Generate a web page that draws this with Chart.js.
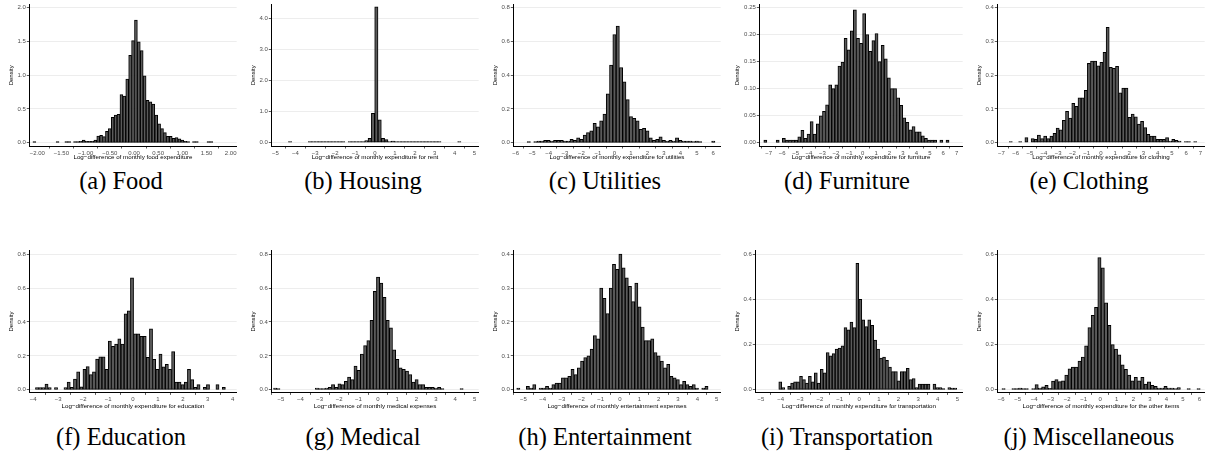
<!DOCTYPE html>
<html lang="en">
<head>
<meta charset="UTF-8">
<title>Log-difference of monthly expenditure by category</title>
<script src="https://cdn.jsdelivr.net/npm/chart.js"></script>
<style>
  body { margin: 0; background: #fff; width: 1211px; height: 464px; overflow: hidden; position: relative; }
  .panel { position: absolute; }
  .caption { position: absolute; width: 242px; height: 30px; line-height: 30px; text-align: center;
             font-family: 'Liberation Serif', serif; font-size: 24.5px; color: #000; white-space: nowrap; }
</style>
</head>
<body>
<script>
// captions and axis titles, one per panel (a..j)
const captions = ['(a) Food', '(b) Housing', '(c) Utilities', '(d) Furniture', '(e) Clothing',
                  '(f) Education', '(g) Medical', '(h) Entertainment', '(i) Transportation', '(j) Miscellaneous'];
const axisTitles = [
    'Log\u2212difference of monthly food expenditure',
    'Log\u2212difference of monthly expenditure for rent',
    'Log\u2212difference of monthly expenditure for utilities',
    'Log\u2212difference of monthly expenditure for furniture',
    'Log\u2212difference of monthly expenditure for clothing',
    'Log\u2212difference of monthly expenditure for education',
    'Log\u2212difference of monthly medical expenses',
    'Log\u2212difference of monthly entertainment expenses',
    'Log\u2212difference of monthly expenditure for transportation',
    'Log\u2212difference of monthly expenditure for the other items'
];

// histogram bins: centre of first bin and bin width
const binFirst = [-2.06, -4.2667, -5.4, -7.25, -6.34, -3.85, -5.3, -5.26, -4.02, -5.85];
const binWidth = [0.06, 0.1667, 0.2, 0.23, 0.22, 0.127, 0.166, 0.165, 0.151, 0.2];

// axis ranges and ticks
const xMin = [-2.165, -5.21, -6.14, -7.7, -7.29, -4.16, -5.5, -5.52, -5.29, -6.23];
const xMax = [2.124, 5.21, 6.45, 7.45, 7.31, 4.16, 5.21, 5.21, 5.27, 6.32];
const yMin = [-0.048, -0.105, -0.019, -0.006, -0.0097, -0.0155, -0.0155, -0.0077, -0.0116, -0.0116];
const yMax = [2.04, 4.45, 0.817, 0.2555, 0.409, 0.821, 0.821, 0.4106, 0.616, 0.616];
const xTicks = [
    [-2, -1.5, -1, -0.5, 0, 0.5, 1, 1.5, 2],
    [-5, -4, -3, -2, -1, 0, 1, 2, 3, 4, 5],
    [-6, -5, -4, -3, -2, -1, 0, 1, 2, 3, 4, 5, 6],
    [-7, -6, -5, -4, -3, -2, -1, 0, 1, 2, 3, 4, 5, 6, 7],
    [-7, -6, -5, -4, -3, -2, -1, 0, 1, 2, 3, 4, 5, 6, 7],
    [-4, -3, -2, -1, 0, 1, 2, 3, 4],
    [-5, -4, -3, -2, -1, 0, 1, 2, 3, 4, 5],
    [-5, -4, -3, -2, -1, 0, 1, 2, 3, 4, 5],
    [-5, -4, -3, -2, -1, 0, 1, 2, 3, 4, 5],
    [-6, -5, -4, -3, -2, -1, 0, 1, 2, 3, 4, 5, 6]
];
const yTicks = [
    [0, 0.5, 1, 1.5, 2],
    [0, 1, 2, 3, 4],
    [0, 0.2, 0.4, 0.6, 0.8],
    [0, 0.05, 0.1, 0.15, 0.2, 0.25],
    [0, 0.1, 0.2, 0.3, 0.4],
    [0, 0.2, 0.4, 0.6, 0.8],
    [0, 0.2, 0.4, 0.6, 0.8],
    [0, 0.1, 0.2, 0.3, 0.4],
    [0, 0.2, 0.4, 0.6],
    [0, 0.2, 0.4, 0.6]
];
const xDecimals = [2, 0, 0, 0, 0, 0, 0, 0, 0, 0];
const yDecimals = [1, 1, 1, 2, 1, 1, 1, 1, 1, 1];

// densities
const foodDensity = [0.015, 0, 0, 0, 0, 0, 0, 0, 0.015, 0, 0, 0.008, 0.008, 0, 0.012, 0.012, 0.02, 0.04, 0.02, 0.02,
    0.02, 0.04, 0.1, 0.11, 0.09, 0.17, 0.21, 0.375, 0.41, 0.42, 0.71, 0.69, 0.94, 1.29, 1.51, 1.81, 1.49, 1.36, 0.99, 0.625,
    0.605, 0.57, 0.41, 0.28, 0.21, 0.15, 0.096, 0.096, 0.067, 0.077, 0.058, 0.04, 0.02, 0.008, 0, 0.012, 0.015, 0, 0, 0,
    0.012, 0.015];
const housingDensity = [0.012, 0, 0, 0, 0, 0, 0.006, 0.006, 0.01, 0.006, 0.006, 0.01, 0.01, 0.02, 0.01, 0.02, 0.006, 0,
    0.01, 0.01, 0.02, 0.02, 0.04, 0.07, 0.14, 0.95, 4.38, 0.74, 0.14, 0.1, 0.03, 0.05, 0.02, 0.01, 0.006, 0.01, 0.01, 0.03,
    0.02, 0.01, 0.02, 0.01, 0.006, 0.006, 0.006, 0.01, 0, 0, 0, 0, 0, 0.01];
const utilitiesDensity = [0, 0.005, 0, 0.005, 0.01, 0.01, 0.015, 0.015, 0.01, 0.015, 0.015, 0.015, 0.01, 0.01, 0.02,
    0.015, 0.03, 0.02, 0.045, 0.06, 0.07, 0.115, 0.095, 0.13, 0.17, 0.29, 0.46, 0.64, 0.69, 0.445, 0.36, 0.255, 0.155,
    0.145, 0.13, 0.08, 0.085, 0.07, 0.03, 0.015, 0.02, 0.035, 0.015, 0.01, 0.015, 0.01, 0.03, 0.015, 0.01, 0.01, 0.01,
    0.005, 0.01, 0.005, 0, 0, 0, 0.01];
const furnitureDensity = [0.005, 0, 0, 0, 0.005, 0, 0.008, 0.005, 0.005, 0.005, 0.005, 0.011, 0.023, 0.008, 0.016, 0.039,
    0.016, 0.035, 0.05, 0.058, 0.07, 0.107, 0.1, 0.107, 0.142, 0.149, 0.193, 0.172, 0.207, 0.246, 0.193, 0.184, 0.239, 0.2,
    0.169, 0.189, 0.202, 0.15, 0.18, 0.155, 0.12, 0.1, 0.1, 0.083, 0.069, 0.046, 0.038, 0.024, 0.03, 0.02, 0.02, 0.013,
    0.008, 0.005, 0.005, 0.005, 0, 0.005, 0, 0.005];
const clothingDensity = [0.003, 0, 0, 0.003, 0, 0.015, 0, 0.012, 0.01, 0.023, 0.012, 0.02, 0.012, 0.02, 0.028, 0.043,
    0.038, 0.066, 0.093, 0.073, 0.117, 0.108, 0.133, 0.133, 0.155, 0.235, 0.242, 0.242, 0.228, 0.238, 0.268, 0.342, 0.223,
    0.22, 0.226, 0.148, 0.162, 0.162, 0.075, 0.085, 0.077, 0.055, 0.063, 0.045, 0.025, 0.02, 0.02, 0.01, 0.01, 0.01, 0.015,
    0.005, 0.01, 0.007, 0.005, 0, 0.003, 0.003, 0, 0.003];
const educationDensity = [0.013, 0.013, 0.013, 0.033, 0.013, 0, 0.013, 0, 0, 0.013, 0.046, 0.015, 0.063, 0.106, 0.017,
    0.12, 0.137, 0.09, 0.106, 0.181, 0.194, 0.194, 0.12, 0.287, 0.256, 0.27, 0.3, 0.27, 0.448, 0.465, 0.66, 0.33, 0.33,
    0.315, 0.315, 0.192, 0.36, 0.18, 0.12, 0.21, 0.135, 0.15, 0.12, 0.225, 0.045, 0.045, 0.03, 0.045, 0.12, 0.06, 0.015,
    0.03, 0, 0.015, 0.03, 0, 0, 0.03, 0, 0.015];
const medicalDensity = [0.01, 0.005, 0, 0, 0, 0, 0, 0, 0, 0, 0, 0, 0, 0.01, 0.005, 0.005, 0.01, 0.015, 0.03, 0.015, 0.035,
    0.03, 0.05, 0.075, 0.06, 0.14, 0.115, 0.21, 0.26, 0.29, 0.41, 0.58, 0.665, 0.63, 0.545, 0.41, 0.365, 0.235, 0.18, 0.13,
    0.12, 0.11, 0.09, 0.045, 0.06, 0.03, 0.03, 0.015, 0.015, 0.015, 0.01, 0.015, 0.005, 0, 0, 0, 0, 0, 0.005];
const entertainmentDensity = [0.005, 0, 0, 0.01, 0.005, 0.015, 0, 0.005, 0.005, 0.01, 0.005, 0.015, 0.02, 0.02, 0.035,
    0.035, 0.04, 0.06, 0.045, 0.065, 0.085, 0.095, 0.1, 0.12, 0.16, 0.15, 0.3, 0.27, 0.225, 0.3, 0.37, 0.355, 0.4, 0.36,
    0.33, 0.305, 0.26, 0.315, 0.245, 0.185, 0.145, 0.145, 0.15, 0.11, 0.1, 0.085, 0.065, 0.075, 0.04, 0.035, 0.03, 0.015,
    0.025, 0.015, 0.01, 0.015, 0.005, 0, 0.005, 0.01];
const transportDensity = [0.035, 0.01, 0, 0.015, 0.03, 0.035, 0.035, 0.06, 0.045, 0.03, 0.06, 0.035, 0.075, 0.03, 0.09,
    0.075, 0.165, 0.15, 0.16, 0.18, 0.185, 0.195, 0.275, 0.265, 0.3, 0.275, 0.56, 0.4, 0.31, 0.28, 0.31, 0.285, 0.22, 0.18,
    0.14, 0.145, 0.13, 0.1, 0.08, 0.08, 0.04, 0.08, 0.08, 0.095, 0.045, 0.05, 0.01, 0.025, 0.025, 0.025, 0.025, 0, 0.025,
    0.01, 0.01, 0.005, 0, 0.01, 0.008, 0.008];
const otherDensity = [0.003, 0, 0, 0.003, 0.003, 0.008, 0.003, 0.003, 0, 0.003, 0.023, 0.008, 0.013, 0.02, 0.006, 0.038,
    0.045, 0.036, 0.04, 0.065, 0.093, 0.1, 0.1, 0.127, 0.145, 0.195, 0.275, 0.33, 0.365, 0.585, 0.54, 0.385, 0.285, 0.2,
    0.18, 0.155, 0.11, 0.09, 0.065, 0.04, 0.055, 0.04, 0.055, 0.025, 0.035, 0.02, 0.015, 0.008, 0.008, 0.015, 0.008, 0.008,
    0.003, 0.01, 0, 0, 0.003, 0, 0, 0.003];

const densities = [foodDensity, housingDensity, utilitiesDensity, furnitureDensity, clothingDensity,
                   educationDensity, medicalDensity, entertainmentDensity, transportDensity, otherDensity];

Chart.defaults.font.family = "'Liberation Sans', Arial, sans-serif";
Chart.defaults.animation = false;

function fmt(v, d) {
    return v.toFixed(d).replace('-', '\u2212');
}

const colLeft = [0, 242, 484, 726, 968];

densities.forEach((dens, i) => {
    const row = i < 5 ? 0 : 1;
    const col = i % 5;
    const top = row === 0 ? 0 : 246;
    const h = row === 0 ? 166 : 167;
    const w = 242;
    const yAxisW = i === 3 ? 33.3 : 29.3;
    const xAxisH = row === 0 ? 20 : 20.6;

    const box = document.createElement('div');
    box.className = 'panel';
    box.style.left = colLeft[col] + 'px';
    box.style.top = top + 'px';
    const canvas = document.createElement('canvas');
    canvas.width = w;
    canvas.height = h;
    box.appendChild(canvas);
    document.body.appendChild(box);

    const cap = document.createElement('div');
    cap.className = 'caption';
    cap.style.left = colLeft[col] + 'px';
    cap.style.top = (row === 0 ? 166 : 422) + 'px';
    cap.textContent = captions[i];
    document.body.appendChild(cap);

    const points = dens.map((d, j) => ({ x: binFirst[i] + j * binWidth[i], y: d === 0 ? null : d }));

    new Chart(canvas.getContext('2d'), {
        type: 'bar',
        data: {
            datasets: [{
                data: points,
                backgroundColor: '#5a5a5a',
                borderColor: '#000000',
                borderWidth: 1,
                borderSkipped: false,
                barPercentage: 1,
                categoryPercentage: 1,
                minBarLength: 1.2
            }]
        },
        options: {
            responsive: false,
            layout: { padding: { left: 0, right: 5.3, top: row === 0 ? 2 : 2.3, bottom: 0 } },
            plugins: { legend: { display: false }, tooltip: { enabled: false } },
            scales: {
                x: {
                    type: 'linear',
                    min: xMin[i],
                    max: xMax[i],
                    offset: false,
                    afterBuildTicks: (s) => { s.ticks = xTicks[i].map(v => ({ value: v })); },
                    afterFit: (s) => { s.height = xAxisH; },
                    ticks: {
                        callback: (v) => fmt(v, xDecimals[i]),
                        font: { size: 6 },
                        color: '#4d4d4d',
                        padding: 1,
                        maxRotation: 0,
                        autoSkip: false
                    },
                    grid: { drawOnChartArea: false, drawTicks: true, tickLength: 2.5, tickColor: '#333333', tickWidth: 0.8 },
                    border: { display: true, color: '#000000', width: 1 },
                    title: {
                        display: true,
                        text: axisTitles[i],
                        font: { size: 6.2 },
                        color: '#000000',
                        padding: { top: 0, bottom: row === 0 ? 4.6 : 2.6 }
                    }
                },
                y: {
                    type: 'linear',
                    min: yMin[i],
                    max: yMax[i],
                    afterBuildTicks: (s) => { s.ticks = yTicks[i].map(v => ({ value: v })); },
                    afterFit: (s) => { s.width = yAxisW; },
                    ticks: {
                        callback: (v) => fmt(v, yDecimals[i]),
                        font: { size: 6 },
                        color: '#4d4d4d',
                        padding: 1
                    },
                    grid: { color: '#ebebeb', lineWidth: 0.9, drawTicks: true, tickLength: 2.5, tickColor: '#333333', tickWidth: 0.8 },
                    border: { display: true, color: '#000000', width: 1 },
                    title: {
                        display: true,
                        text: 'Density',
                        font: { size: 6 },
                        color: '#000000',
                        padding: { top: 7.3, bottom: 0 }
                    }
                }
            }
        }
    });
});
</script>
</body>
</html>
